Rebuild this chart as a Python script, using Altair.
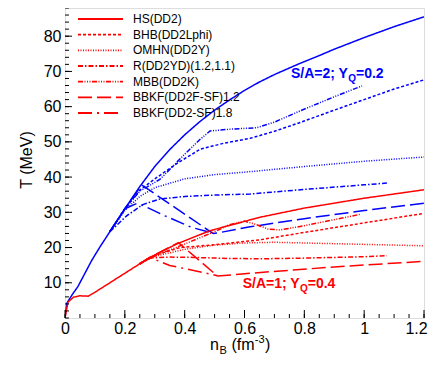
import altair as alt
import pandas as pd

# ---------------- data ----------------
models = ["HS(DD2)", "BHB(DD2Lphi)", "OMHN(DD2Y)", "R(DD2YD)(1.2,1.1)",
          "MBB(DD2K)", "BBKF(DD2F-SF)1.2", "BBKF(DD2-SF)1.8"]
dashes = [[1, 0], [3, 2], [1, 1.5], [5, 2, 1.5, 2], [5, 1.5, 1, 1.5, 1, 1.5, 1, 1.5],
          [14, 5], [14, 5, 2, 5]]

# S/A=2, Y_Q=0.2 (blue)
hs2_x = [0, 0.006, 0.027, 0.043, 0.089, 0.117, 0.15, 0.2, 0.25, 0.3, 0.35, 0.4, 0.45,
         0.5, 0.55, 0.6, 0.65, 0.7, 0.775, 0.85, 0.9, 1.0, 1.1, 1.2]
hs2_T = [0, 4.2, 7.0, 8.9, 16.3, 20.2, 24.5, 31.0, 37.3, 43.0, 47.8, 52.0, 55.7,
         59.0, 61.9, 64.6, 67.0, 69.1, 71.9, 74.5, 76.3, 79.6, 82.7, 85.5]
bhb2_x = [0.15, 0.2, 0.25, 0.307, 0.38, 0.452, 0.53, 0.619, 0.7, 0.786, 0.9, 1.0, 1.1, 1.2]
bhb2_T = [24.5, 31.0, 36.3, 39.9, 44.2, 47.9, 49.6, 51.0, 53.0, 55.5, 59.0, 62.0, 65.0, 67.6]
omhn2_x = [0.15, 0.2, 0.25, 0.3, 0.4, 0.5, 0.6, 0.8, 1.0, 1.2]
omhn2_T = [24.5, 30.5, 34.5, 37.0, 39.5, 40.7, 41.4, 43.0, 44.5, 45.7]
r2_x = [0.15, 0.206, 0.26, 0.318, 0.4, 0.5, 0.619, 0.8, 1.0, 1.076]
r2_T = [24.5, 29.0, 32.2, 33.8, 34.5, 34.9, 35.2, 36.5, 37.8, 38.3]
mbb2_x = [0.15, 0.2, 0.25, 0.318, 0.4, 0.45, 0.485, 0.552, 0.641, 0.7, 0.786, 0.9, 0.993]
mbb2_T = [24.5, 31.0, 36.0, 39.4, 46.5, 50.6, 53.1, 53.6, 54.0, 55.6, 58.8, 62.8, 65.9]
bbkf12_2_x = [0.15, 0.2, 0.256, 0.495, 0.52, 0.619, 0.8, 1.0, 1.2]
bbkf12_2_T = [24.5, 31.0, 37.8, 24.0, 24.3, 25.9, 28.2, 30.5, 32.6]
bbkf18_2_x = [0.15, 0.2, 0.24, 0.262, 0.334, 0.424, 0.49]
bbkf18_2_T = [24.5, 31.0, 32.5, 31.9, 29.0, 25.7, 24.2]

# S/A=1, Y_Q=0.4 (red)
hs1_x = [0, 0.01, 0.028, 0.05, 0.078, 0.1, 0.15, 0.2, 0.25, 0.284, 0.373, 0.485, 0.652, 0.8, 1.0, 1.2]
hs1_T = [0, 4.5, 5.9, 6.3, 6.2, 7.3, 10.0, 12.7, 15.4, 17.2, 21.0, 24.8, 28.6, 31.2, 34.0, 36.4]
bhb1_x = [0.25, 0.3, 0.385, 0.5, 0.652, 0.8, 1.0, 1.2]
bhb1_T = [15.4, 17.8, 20.0, 20.8, 22.2, 24.3, 27.0, 29.7]
omhn1_x = [0.25, 0.3, 0.4, 0.5, 0.6, 0.7, 0.8, 1.0, 1.2]
omhn1_T = [15.4, 17.5, 19.5, 20.7, 21.3, 21.5, 21.3, 20.9, 20.5]
r1_x = [0.25, 0.28, 0.35, 0.43, 0.55, 0.652, 0.8, 1.0, 1.076]
r1_T = [15.4, 17.0, 17.3, 17.2, 16.9, 16.8, 17.0, 17.4, 17.7]
mbb1_x = [0.25, 0.3, 0.4, 0.5, 0.55, 0.6, 0.64, 0.68, 0.72, 0.8, 0.9, 0.99]
mbb1_T = [15.4, 17.6, 21.0, 24.5, 26.5, 27.5, 26.5, 25.2, 25.0, 26.2, 27.9, 29.5]
bbkf12_1_x = [0.25, 0.284, 0.379, 0.51, 0.62, 0.9, 1.2]
bbkf12_1_T = [15.4, 17.2, 21.4, 11.9, 12.7, 14.5, 16.1]
bbkf18_1_x = [0.25, 0.284, 0.35, 0.43, 0.51]
bbkf18_1_T = [15.4, 17.2, 14.9, 13.5, 12.0]

x_major = [0, 0.2, 0.4, 0.6, 0.8, 1.0, 1.2]
x_minor = [round(i * 0.05, 2) for i in range(25)]
y_major = [10, 20, 30, 40, 50, 60, 70, 80]
y_minor = list(range(0, 89, 2))

# ---------------- build table ----------------
series = [
    ("S/A=2", models[0], hs2_x, hs2_T), ("S/A=2", models[1], bhb2_x, bhb2_T),
    ("S/A=2", models[2], omhn2_x, omhn2_T), ("S/A=2", models[3], r2_x, r2_T),
    ("S/A=2", models[4], mbb2_x, mbb2_T), ("S/A=2", models[5], bbkf12_2_x, bbkf12_2_T),
    ("S/A=2", models[6], bbkf18_2_x, bbkf18_2_T),
    ("S/A=1", models[0], hs1_x, hs1_T), ("S/A=1", models[1], bhb1_x, bhb1_T),
    ("S/A=1", models[2], omhn1_x, omhn1_T), ("S/A=1", models[3], r1_x, r1_T),
    ("S/A=1", models[4], mbb1_x, mbb1_T), ("S/A=1", models[5], bbkf12_1_x, bbkf12_1_T),
    ("S/A=1", models[6], bbkf18_1_x, bbkf18_1_T),
]
rows = []
for g, m, xs, ts in series:
    for i, (xv, tv) in enumerate(zip(xs, ts)):
        rows.append({"group": g, "model": m, "key": g + m, "i": i, "x": xv, "T": tv})
df = pd.DataFrame(rows)

FONT = "Liberation Sans"
W, H = 359, 310
xscale = alt.Scale(domain=[0, 1.2], nice=False, zero=False)
yscale = alt.Scale(domain=[0, 88], nice=False, zero=False)
xaxis = alt.Axis(values=x_major, format=".1~f", ticks=False, domain=False, grid=False,
                 labelFontSize=16, labelPadding=2, labelFont=FONT, labelColor="black",
                 title=None, labelFlush=False,
                 labelOffset=alt.ExprRef("datum.value > 1.1 ? -8 : 0"))
yaxis = alt.Axis(values=y_major, ticks=False, domain=False, grid=False,
                 labelFontSize=16, labelPadding=4, labelFont=FONT, labelColor="black",
                 title=None)

X = lambda: alt.X("x:Q", scale=xscale, axis=xaxis)
Y = lambda: alt.Y("T:Q", scale=yscale, axis=yaxis)

lines = alt.Chart(df).mark_line(strokeWidth=1.5, clip=True).encode(
    x=X(), y=Y(),
    color=alt.Color("group:N", scale=alt.Scale(domain=["S/A=1", "S/A=2"],
                                               range=["#ff0000", "#0000ff"]), legend=None),
    strokeDash=alt.StrokeDash("model:N", scale=alt.Scale(domain=models, range=dashes),
                              legend=None),
    detail="key:N",
    order="i:Q",
)

layers = [lines]

# inner ticks
xmaj = pd.DataFrame({"x": x_major})
xmin = pd.DataFrame({"x": x_minor})
ymaj = pd.DataFrame({"T": y_major})
ymin = pd.DataFrame({"T": y_minor})
layers.append(alt.Chart(xmaj).mark_rule(color="black").encode(x=X(), y=alt.value(H), y2=alt.value(H - 8)))
layers.append(alt.Chart(xmin).mark_rule(color="black").encode(x=X(), y=alt.value(H), y2=alt.value(H - 4)))
layers.append(alt.Chart(ymaj).mark_rule(color="black").encode(y=Y(), x=alt.value(0), x2=alt.value(7)))
layers.append(alt.Chart(ymin).mark_rule(color="black").encode(y=Y(), x=alt.value(0), x2=alt.value(4)))

# manual legend
for k, (m, d) in enumerate(zip(models, dashes)):
    yy = 11 + k * 15.67
    layers.append(alt.Chart(pd.DataFrame({"m": [m]})).mark_rule(
        color="#ff0000", strokeWidth=1.8, strokeDash=d).encode(
        x=alt.value(13), x2=alt.value(58), y=alt.value(yy)))
    layers.append(alt.Chart(pd.DataFrame({"m": [m]})).mark_text(
        align="left", baseline="middle", fontSize=12, font=FONT, color="black").encode(
        x=alt.value(68), y=alt.value(yy), text="m:N"))

def txt(s, px, py, size, color="black", bold=False, angle=0, align="left", baseline="alphabetic"):
    kw = dict(align=align, baseline=baseline, fontSize=size, font=FONT, color=color)
    if bold:
        kw["fontWeight"] = "bold"
    if angle:
        kw["angle"] = angle
    return alt.Chart(pd.DataFrame({"s": [s]})).mark_text(**kw).encode(
        x=alt.value(px), y=alt.value(py), text="s:N")

# annotations
layers += [
    txt("S/A=2; Y", 226, 70, 14, "#0000ff", True),
    txt("Q", 283.2, 74, 10, "#0000ff", True),
    txt("=0.2", 291, 70, 14, "#0000ff", True),
    txt("S/A=1; Y", 177.7, 280, 14, "#ff0000", True),
    txt("Q", 234.9, 284, 10, "#ff0000", True),
    txt("=0.4", 242.7, 280, 14, "#ff0000", True),
]

# axis titles
layers += [
    txt("T (MeV)", -38, H / 2 - 3, 16, angle=270, align="center", baseline="middle"),
    txt("n", 145, 341.5, 16),
    txt("B", 154.5, 345.5, 11),
    txt("(fm", 166.5, 341.5, 16),
    txt("-3", 189.8, 334.5, 11),
    txt(")", 200, 341.5, 16),
]

chart = alt.layer(*layers).properties(
    width=W, height=H,
    autosize=alt.AutoSizeParams(type="none"),
    padding={"left": 57, "top": 0, "right": 4, "bottom": 38},
).configure_view(stroke="black", strokeWidth=1).configure(background="white")

chart.save("out.html", embed_options={"renderer": "svg", "actions": False})
